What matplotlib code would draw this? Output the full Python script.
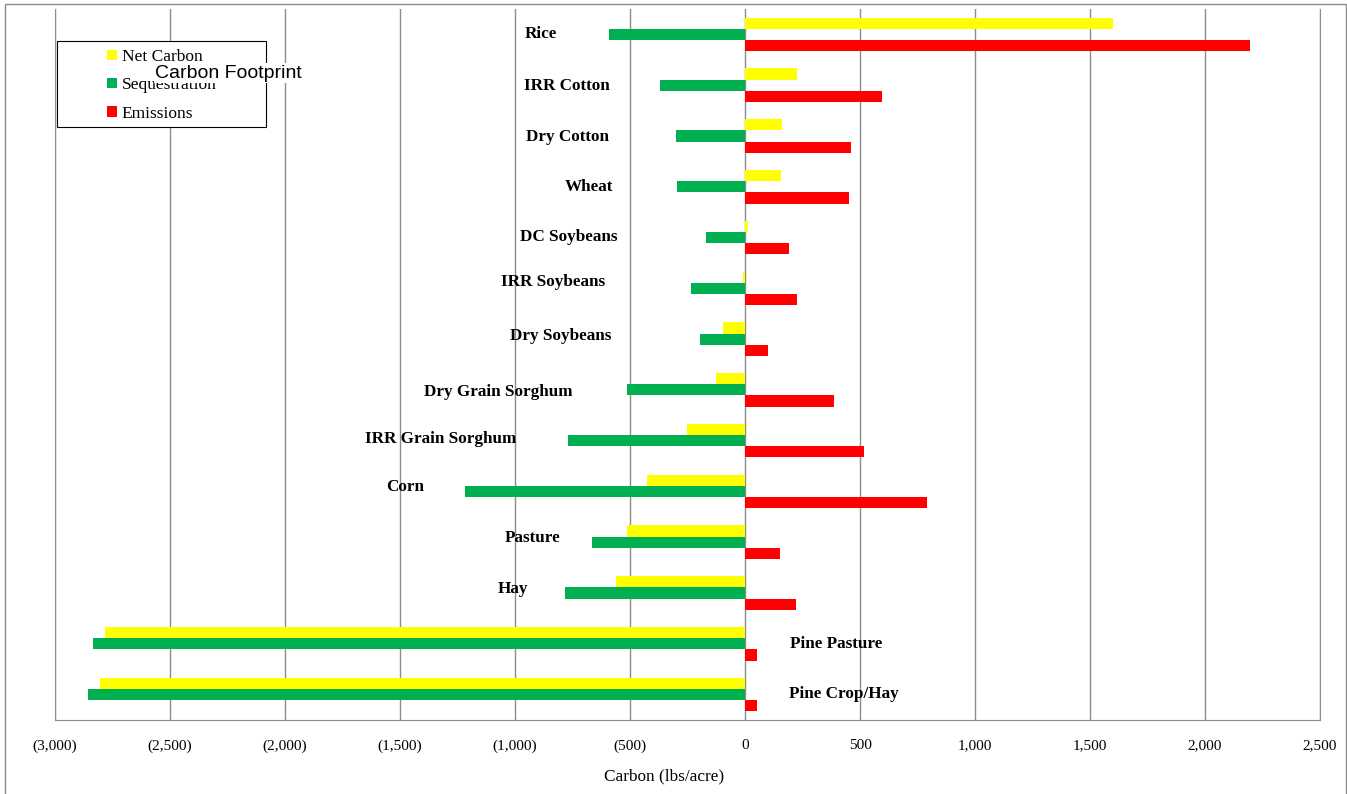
import numpy as np
import matplotlib.pyplot as plt
from matplotlib.patches import Rectangle
from matplotlib.ticker import FuncFormatter

# crops, top to bottom as drawn
crops = ["Rice", "IRR Cotton", "Dry Cotton", "Wheat", "DC Soybeans", "IRR Soybeans",
         "Dry Soybeans", "Dry Grain Sorghum", "IRR Grain Sorghum", "Corn", "Pasture",
         "Hay", "Pine Pasture", "Pine Crop/Hay"]

# lbs/acre
net_carbon = [1602, 224, 160, 155, 14, -10, -96, -127, -252, -428, -514, -562, -2784, -2804]
sequestration = [-592, -370, -300, -296, -170, -235, -196, -514, -770, -1219, -666, -784, -2834, -2856]
emissions = [2194, 596, 461, 453, 192, 226, 100, 387, 518, 792, 152, 222, 52, 52]

# where the crop names sit (x in data units, layout only)
label_x = [-888, -775, -771, -679, -766, -836, -801, -1071, -1323, -1476, -923, -1010, 396, 431]
label_dy = [0, 0.02, 0.02, 0, -0.02, -0.12, -0.06, 0.04, -0.04, -0.08, -0.08, -0.08, 0, -0.02]

W, H = 1347, 794
fig = plt.figure(figsize=(W / 100, H / 100), dpi=100)
# outer chart border
fig.patches.append(Rectangle((5 / W, -0.01), (W - 6) / W, (H - 4) / H + 0.01,
                             transform=fig.transFigure, fill=False, edgecolor="#8c8c8c", lw=1))

ax = fig.add_axes([55 / W, (H - 720) / H, 1265 / W, 711 / H])

y = np.arange(len(crops))
h = 0.22
ax.barh(y - h, net_carbon, height=h, color="#FFFF00", label="Net Carbon", zorder=3)
ax.barh(y, sequestration, height=h, color="#00B050", label="Sequestration", zorder=3)
ax.barh(y + h, emissions, height=h, color="#FF0000", label="Emissions", zorder=3)

ax.set_ylim(len(crops) - 0.5, -0.5)
ax.set_xlim(-3000, 2500)
ax.set_xticks(np.arange(-3000, 2501, 500))
ax.xaxis.set_major_formatter(FuncFormatter(
    lambda v, p: f"({abs(int(v)):,})" if v < 0 else f"{int(v):,}"))
ax.set_yticks([])
ax.tick_params(axis="x", length=0, pad=14, labelsize=11)
for t in ax.get_xticklabels():
    t.set_fontfamily("Liberation Serif")
ax.grid(axis="x", color="#8c8c8c", lw=1, zorder=0)

ax.spines["top"].set_visible(False)
for s in ["left", "right", "bottom"]:
    ax.spines[s].set_color("#8c8c8c")

for i, name in enumerate(crops):
    ax.text(label_x[i], i + label_dy[i], name, ha="center", va="center",
            fontfamily="Liberation Serif", fontweight="bold", fontsize=12.3, zorder=4)

fig.text(664 / W, 1 - 776 / H, "Carbon (lbs/acre)", ha="center", va="center",
         fontfamily="Liberation Serif", fontsize=12.4)

# legend box drawn by hand, entries sit right of centre like the original
fig.patches.append(Rectangle((57 / W, 1 - 127 / H), 209 / W, 86 / H,
                             transform=fig.transFigure, facecolor="white",
                             edgecolor="black", lw=0.8, zorder=5))
leg = fig.legend(loc="upper left", bbox_to_anchor=(107 / W, 1 - 49 / H),
                 frameon=False, prop={"family": "Liberation Serif", "size": 12.5},
                 handlelength=0.55, handleheight=0.55, handletextpad=0.3,
                 labelspacing=0.71, borderpad=0, borderaxespad=0)
leg.set_zorder(6)

fig.text(155 / W, 1 - 73 / H, "Carbon Footprint", ha="left", va="center",
         fontfamily="Liberation Sans", fontsize=14, zorder=10,
         bbox=dict(facecolor="white", edgecolor="none", pad=1))

fig.savefig("out.png", dpi=100)
